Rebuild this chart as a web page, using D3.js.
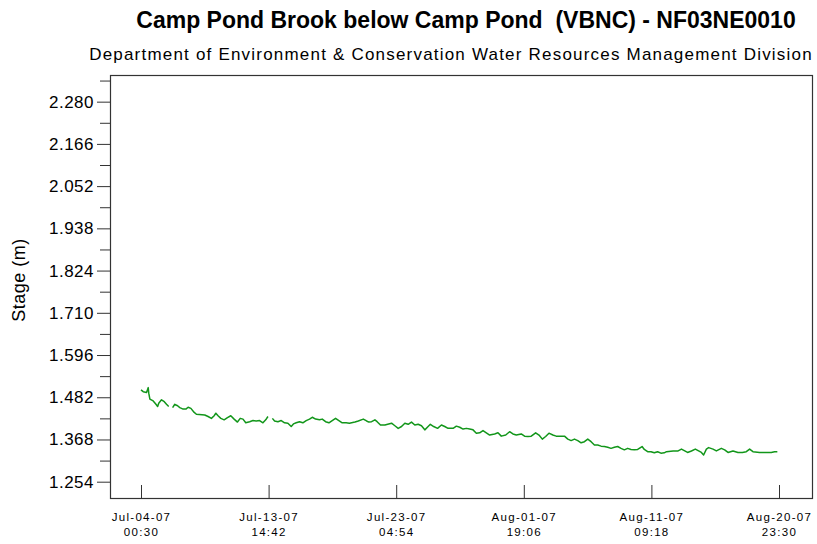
<!DOCTYPE html>
<html>
<head>
<meta charset="utf-8">
<script src="https://cdn.jsdelivr.net/npm/d3@7"></script>
<style>
  body { margin: 0; background: #fff; }
  svg { display: block; }
  text { font-family: Arial, "Liberation Sans", sans-serif; fill: #000; }
</style>
</head>
<body>
<svg id="chart" width="817" height="544"></svg>
<script>
// Station hydrograph: stage readings, hours after the first reading
const titleText = "Camp Pond Brook below Camp Pond  (VBNC) - NF03NE0010";
const subtitleText = "Department of Environment & Conservation Water Resources Management Division";
const yAxisTitle = "Stage (m)";

const seriesStart = "2007-07-04T00:30";

// [hours since seriesStart, stage in m]; null marks a gap in the record
const stageReadings = [
  [0,1.502],[4,1.497],[10,1.495],[13,1.508],[14,1.493],[16,1.477],[22,1.472],[27,1.463],
  [30,1.457],[32,1.466],[37,1.475],[42,1.470],[46,1.463],[50,1.457],[53,null],
  [57,1.454],[61,1.463],[66,1.459],[70,1.454],[76,1.450],[81,1.450],[85,1.455],[90,1.452],
  [96,1.441],[100,1.436],[115,1.434],[121,1.430],[127,1.425],[132,1.432],[135,1.439],
  [139,1.432],[144,1.425],[150,1.421],[156,1.427],[162,1.432],[168,1.423],[174,1.415],
  [179,1.425],[184,1.423],[189,1.413],[196,1.416],[202,1.419],[208,1.418],[214,1.419],
  [220,1.413],[225,1.421],[229,1.430],[232,null],
  [237,1.425],[241,1.418],[247,1.416],[253,1.419],[259,1.413],[265,1.412],[271,1.403],
  [275,1.410],[280,1.413],[286,1.416],[292,1.413],[298,1.419],[304,1.423],[309,1.428],
  [315,1.423],[322,1.421],[327,1.423],[333,1.416],[339,1.413],[345,1.419],[351,1.425],
  [357,1.419],[363,1.413],[370,1.413],[376,1.412],[386,1.415],[392,1.418],[401,1.423],
  [407,1.418],[411,1.415],[416,1.416],[422,1.421],[426,1.416],[432,1.407],[440,1.407],
  [452,1.412],[458,1.405],[464,1.398],[470,1.403],[476,1.412],[482,1.409],[488,1.415],
  [494,1.407],[500,1.409],[506,1.405],[512,1.394],[518,1.403],[522,1.409],[528,1.403],
  [535,1.398],[542,1.407],[548,1.403],[554,1.398],[563,1.398],[569,1.404],[575,1.401],
  [581,1.396],[587,1.398],[593,1.396],[599,1.394],[605,1.385],[611,1.386],[617,1.392],
  [623,1.386],[629,1.380],[638,1.383],[644,1.386],[650,1.377],[658,1.380],[665,1.389],
  [671,1.383],[677,1.380],[686,1.383],[692,1.377],[698,1.376],[704,1.377],[712,1.386],
  [718,1.380],[724,1.369],[730,1.376],[736,1.385],[743,1.380],[749,1.377],[758,1.377],
  [764,1.377],[770,1.369],[776,1.365],[782,1.369],[788,1.365],[794,1.359],[800,1.362],
  [806,1.369],[812,1.362],[818,1.353],[824,1.353],[830,1.350],[836,1.349],[842,1.347],
  [848,1.344],[854,1.347],[860,1.349],[866,1.344],[872,1.340],[878,1.344],[884,1.341],
  [890,1.340],[896,1.341],[904,1.349],[908,1.341],[914,1.335],[920,1.335],[926,1.332],
  [932,1.335],[938,1.331],[944,1.332],[948,1.335],[960,1.337],[969,1.337],[975,1.342],
  [981,1.337],[986,1.333],[993,1.337],[1000,1.342],[1006,1.337],[1011,1.333],[1015,1.326],
  [1020,1.342],[1024,1.346],[1032,1.342],[1038,1.337],[1047,1.344],[1053,1.340],[1059,1.333],
  [1068,1.337],[1077,1.333],[1085,1.333],[1092,1.335],[1098,1.342],[1104,1.335],[1116,1.333],
  [1128,1.333],[1137,1.333],[1143,1.335],[1148,1.335]
];

const xTickTimes = [
  "2007-07-04T00:30", "2007-07-13T14:42", "2007-07-23T04:54",
  "2007-08-01T19:06", "2007-08-11T09:18", "2007-08-20T23:30"
];
const yMajorTicks = [1.254, 1.368, 1.482, 1.596, 1.710, 1.824, 1.938, 2.052, 2.166, 2.280];
const yMinorTicks = [1.311, 1.425, 1.539, 1.653, 1.767, 1.881, 1.995, 2.109, 2.223, 2.337];
const yDomain = [1.210, 2.352];

// ---- layout ----
const plot = { left: 110, right: 812, top: 75, bottom: 498 };
const xPad = { left: 31, right: 33 };

const parseTime = d3.timeParse("%Y-%m-%dT%H:%M");
const t0 = parseTime(seriesStart);
const tickDates = xTickTimes.map(parseTime);

const svg = d3.select("#chart");

const x = d3.scaleTime()
  .domain([tickDates[0], tickDates[tickDates.length - 1]])
  .range([plot.left + xPad.left, plot.right - xPad.right]);

const y = d3.scaleLinear()
  .domain(yDomain)
  .range([plot.bottom, plot.top]);

// titles
svg.append("text")
  .attr("x", 466).attr("y", 28)
  .attr("text-anchor", "middle")
  .style("font-size", "23px").style("font-weight", "bold")
  .style("white-space", "pre")
  .text(titleText);

svg.append("text")
  .attr("x", 451).attr("y", 60)
  .attr("text-anchor", "middle")
  .style("font-size", "17px")
  .style("letter-spacing", "1.2px")
  .text(subtitleText);

svg.append("text")
  .attr("transform", `translate(25,280) rotate(-90)`)
  .attr("text-anchor", "middle")
  .style("font-size", "18px")
  .style("letter-spacing", "0.5px")
  .text(yAxisTitle);

// y axis: major ticks with labels, minor ticks without
const yMajor = svg.append("g")
  .attr("transform", `translate(${plot.left},0)`)
  .call(d3.axisLeft(y).tickValues(yMajorTicks).tickFormat(d3.format(".3f")).tickSize(13).tickPadding(3));
yMajor.select(".domain").remove();
yMajor.selectAll(".tick line").attr("stroke", "#333");
yMajor.selectAll(".tick text")
  .style("font-size", "17px").style("font-family", "Arial, 'Liberation Sans', sans-serif")
  .style("letter-spacing", "0.5px").attr("fill", "#111");

const yMinor = svg.append("g")
  .attr("transform", `translate(${plot.left},0)`)
  .call(d3.axisLeft(y).tickValues(yMinorTicks).tickFormat("").tickSize(10));
yMinor.select(".domain").remove();
yMinor.selectAll(".tick line").attr("stroke", "#333");

// x axis: ticks point into the plot, two-line date/time labels below
const fmtDate = d3.timeFormat("%b-%d-%y");
const fmtTime = d3.timeFormat("%H:%M");
const xAxis = svg.append("g")
  .attr("transform", `translate(0,${plot.bottom})`)
  .call(d3.axisBottom(x).tickValues(tickDates).tickFormat("").tickSize(-13));
xAxis.select(".domain").remove();
xAxis.selectAll(".tick line").attr("stroke", "#333");
xAxis.selectAll(".tick").each(function(d) {
  const t = d3.select(this).append("text")
    .attr("text-anchor", "middle")
    .attr("fill", "#111")
    .style("font-size", "11.5px")
    .style("letter-spacing", "1.3px")
    .style("font-family", "Arial, 'Liberation Sans', sans-serif");
  t.append("tspan").attr("x", 0).attr("y", 23).text(fmtDate(d));
  t.append("tspan").attr("x", 0).attr("y", 38).text(fmtTime(d));
});

// plot frame
svg.append("rect")
  .attr("x", plot.left + 0.5).attr("y", plot.top + 0.5)
  .attr("width", plot.right - plot.left).attr("height", plot.bottom - plot.top)
  .attr("fill", "none").attr("stroke", "#333").attr("stroke-width", 1.2);

// stage trace
const line = d3.line()
  .defined(d => d[1] !== null)
  .x(d => x(new Date(t0.getTime() + d[0] * 3600e3)))
  .y(d => y(d[1]));

svg.append("path")
  .datum(stageReadings)
  .attr("fill", "none")
  .attr("stroke", "#12961a")
  .attr("stroke-width", 1.5)
  .attr("stroke-linejoin", "round")
  .attr("d", line);
</script>
</body>
</html>
